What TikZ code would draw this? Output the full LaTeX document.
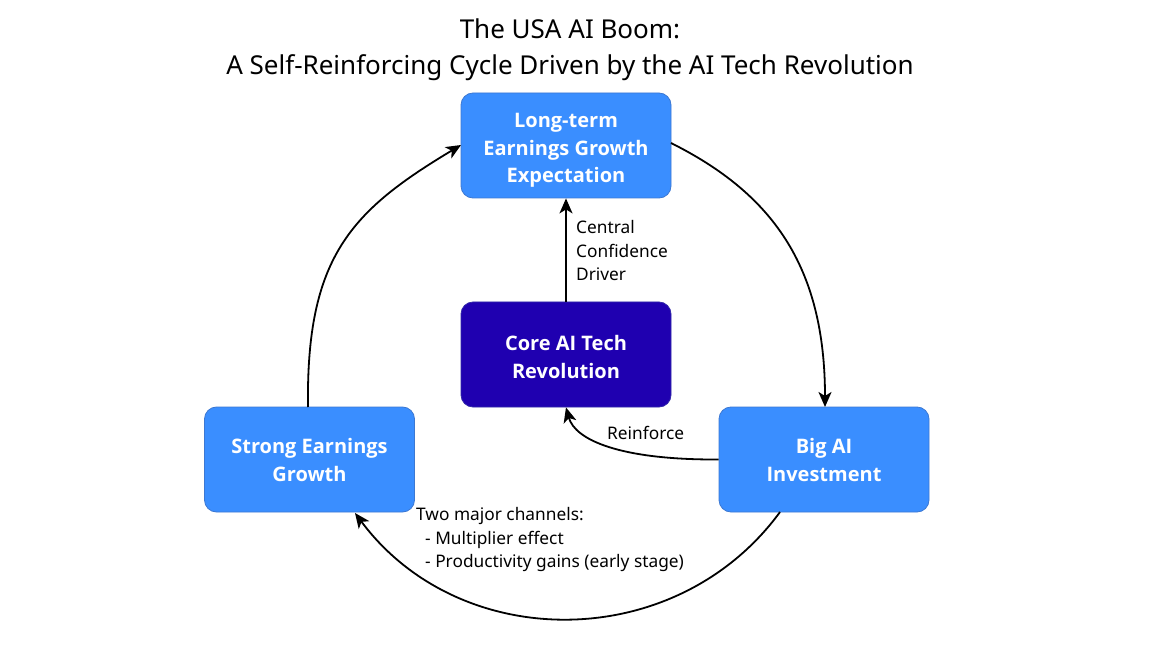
\documentclass[tikz,border=0pt]{standalone}
\usepackage{fontspec}
\setmainfont{Noto Sans}
\newfontfamily\boxfont{Open Sans}
\usetikzlibrary{arrows.meta}
\definecolor{boxblue}{RGB}{58,142,255}
\definecolor{boxblueborder}{RGB}{60,120,210}
\definecolor{coreblue}{RGB}{31,0,176}
\definecolor{coreborder}{RGB}{50,40,170}
\tikzset{
  box/.style={rounded corners=12bp, minimum width=210bp, minimum height=105bp,
    inner sep=0pt, line width=0.8bp},
  boxtext/.style={inner sep=0pt, align=center, text=white,
    font=\boxfont\bfseries\fontsize{20bp}{27.5bp}\selectfont},
  lightbox/.style={box, fill=boxblue, draw=boxblueborder},
  corebox/.style={box, fill=coreblue, draw=coreborder},
  conn/.style={line width=1.8bp, -{Stealth[length=15bp, width=13bp, inset=4bp]}},
  lbl/.style={font=\fontsize{17.3bp}{23.5bp}\selectfont, align=left, inner sep=0pt, anchor=west},
  ttl/.style={font=\fontsize{26bp}{36bp}\selectfont, align=center, inner sep=0pt}
}
\begin{document}
\begin{tikzpicture}[x=1bp, y=-1bp]
\useasboundingbox (0,0) rectangle (1152,648);
\fill[white] (0,0) rectangle (1152,648);
\node[ttl] (title) at (570,50) {The USA AI Boom:\\A Self-Reinforcing Cycle Driven by the AI Tech Revolution};
\node[lightbox] (exp) at (566,145.5) {};
\node[corebox] (core) at (566,354.5) {};
\node[lightbox] (strong) at (309.5,459.5) {};
\node[lightbox] (invest) at (824,459.5) {};
\node[boxtext] (expT) at ([yshift=-5bp]exp.center) {Long-term\\Earnings Growth\\Expectation};
\node[boxtext] (coreT) at ([yshift=-2.5bp]core.center) {Core AI Tech\\Revolution};
\node[boxtext] (strongT) at ([yshift=-0.5bp]strong.center) {Strong Earnings\\Growth};
\node[boxtext] (investT) at ([yshift=-0.5bp]invest.center) {Big AI\\Investment};
% coordinates on box boundaries
\coordinate (expE) at (671,143);
\coordinate (invN) at (825,407);
\coordinate (invS) at (780,512);
\coordinate (strS) at (355,513);
\coordinate (strN) at (308,407);
\coordinate (expW) at (461,145);
\draw[conn] (expE) .. controls (771,193) and (825,265) .. (invN);
\draw[conn] (invS) .. controls (676,654) and (460,654) .. (strS);
\draw[conn] (strN) .. controls (306,257) and (351,211) .. (expW);
\draw[conn] (core.north) -- (exp.south);
\draw[conn] (invest.west) .. controls (620,460) and (575,440) .. (core.south);
\node[lbl] (lcentral) at (576,251) {Central\\Confidence\\Driver};
\node[lbl] (lreinf) at (607,433) {Reinforce};
\node[lbl] (lchan) at (416,539.5) {Two major channels:\\\ \ - Multiplier effect\\\ \ - Productivity gains (early stage)};
\end{tikzpicture}
\end{document}
